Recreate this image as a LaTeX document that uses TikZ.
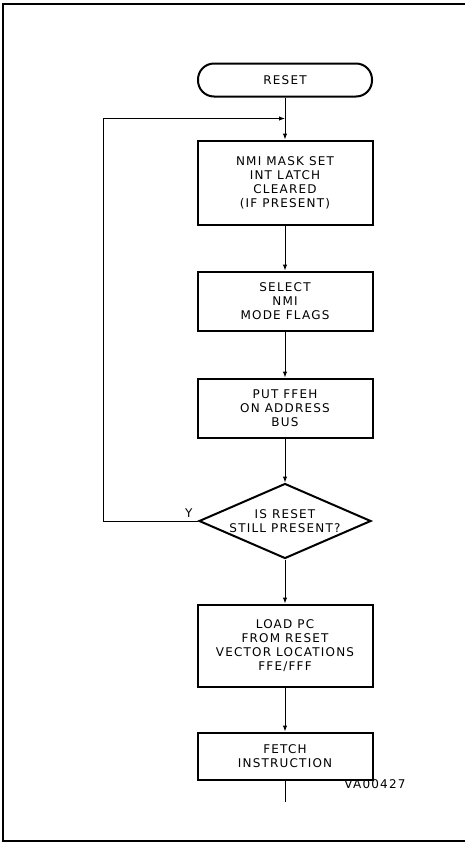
\documentclass[tikz,border=0pt]{standalone}
\usepackage{fontspec}
\setmainfont{DejaVu Sans}[LetterSpace=10]
\usepackage{tikz}
\usetikzlibrary{positioning, shapes.geometric, arrows.meta, calc}

\tikzset{
  startbox/.style={rectangle, rounded corners=16pt, draw=black, line width=2pt, minimum width=174pt, minimum height=33pt},
  stepbox/.style={rectangle, draw=black, line width=2pt, minimum width=175pt, align=center, inner sep=2pt},
  decision/.style={diamond, draw=black, line width=2pt, aspect=2.3, minimum width=172pt, minimum height=75pt, inner sep=0pt, align=center},
  flow/.style={-{Latex[length=6pt,width=4.5pt]}, line width=1pt},
  frame/.style={line width=1.4pt}
}

\begin{document}
\begin{tikzpicture}[x=1pt, y=-1pt, font=\fontsize{12}{13.9}\selectfont]
\useasboundingbox (0,0) rectangle (464,844);
\draw[frame] (466,4) -- (3,4) -- (3,841) -- (466,841);

\node (reset) [startbox] at (285,80) {RESET};
\node (nmi) [stepbox, minimum height=84pt, below=42pt of reset] {NMI MASK SET\\INT LATCH\\CLEARED\\(IF PRESENT)};
\node (modes) [stepbox, minimum height=59pt, below=45pt of nmi] {SELECT\\NMI\\MODE FLAGS};
\node (addr) [stepbox, minimum height=59pt, below=46pt of modes] {PUT FFEH\\ON ADDRESS\\BUS};
\node (test) [decision, below=44pt of addr] {IS RESET\\STILL PRESENT?};
\node (load) [stepbox, minimum height=82pt, below=44pt of test] {LOAD PC\\FROM RESET\\VECTOR LOCATIONS\\FFE/FFF};
\node (fetch) [stepbox, minimum height=47pt, below=44pt of load] {FETCH\\INSTRUCTION};

\coordinate (join) at ($(reset.south)!0.5!(nmi.north)$);
\coordinate [below=21pt of fetch] (tail);
\node (yes) [above left=0pt and 2pt of test.west] {Y};
\node (figid) at (375,784) {VA00427};

\draw[flow] (reset) -- (nmi);
\draw[flow] (nmi) -- (modes);
\draw[flow] (modes) -- (addr);
\draw[flow] (addr) -- (test);
\draw[flow] (test) -- (load);
\draw[flow] (load) -- (fetch);
\draw[line width=1pt] (fetch) -- (tail);
\draw[flow] (test.west) -- ++(-95,0) |- (join);
\end{tikzpicture}
\end{document}
